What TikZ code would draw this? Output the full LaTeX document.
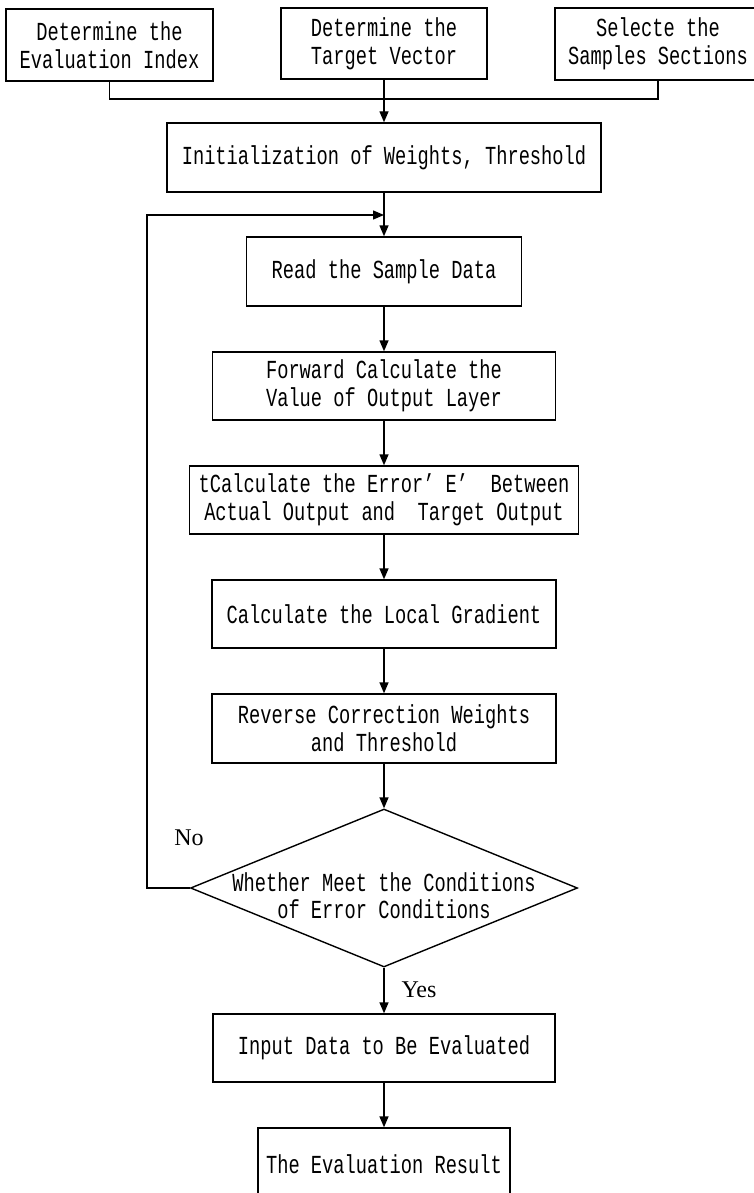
\documentclass[tikz,border=0pt]{standalone}
\usepackage{fontspec}
\setmainfont{Liberation Mono}[FakeStretch=0.72]
\newfontfamily\lblfont{Liberation Serif}
\usetikzlibrary{arrows.meta,shapes.geometric}
\tikzset{
  box/.style={draw, line width=1.4pt, rectangle, inner sep=0pt, align=center,
    font=\fontsize{26}{28}\selectfont},
  arr/.style={line width=1.4pt, -{Triangle[length=11pt,width=9pt]}},
  ln/.style={line width=1.4pt},
  lbl/.style={font=\lblfont\fontsize{24}{28}\selectfont, inner sep=0pt},
  dtxt/.style={align=center, inner sep=0pt, font=\fontsize{26}{27}\selectfont}
}
\begin{document}
\begin{tikzpicture}[x=1pt,y=1pt]
\path[use as bounding box] (0,0) rectangle (753,-1193);
% top boxes
\node[box, minimum width=207pt, minimum height=72pt] (b1) at (109.5,-45) {Determine the\\Evaluation Index};
\node[box, minimum width=206pt, minimum height=71pt] (b2) at (384,-43.5) {Determine the\\Target Vector};
\node[box, minimum width=206pt, minimum height=72pt] (b3) at (658,-44) {Selecte the\\Samples Sections};
\node[box, minimum width=434pt, minimum height=69pt] (init) at (384,-157.5) {Initialization of Weights, Threshold};
\node[box, minimum width=275pt, minimum height=69pt] (read) at (384,-271.5) {Read the Sample Data};
\node[box, minimum width=343pt, minimum height=68pt] (fwd) at (384,-386) {Forward Calculate the\\Value of Output Layer};
\node[box, minimum width=389pt, minimum height=68pt] (err) at (384,-500) {tCalculate the Error’ E’\ \ Between\\Actual Output and\ \ Target Output};
\node[box, minimum width=344pt, minimum height=68pt] (grad) at (384,-614) {Calculate the Local Gradient};
\node[box, minimum width=344pt, minimum height=69pt] (rev) at (384,-728.5) {Reverse Correction Weights\\and Threshold};
\node[draw, line width=1.4pt, diamond, minimum width=387pt, minimum height=158pt, inner sep=0pt] (dia) at (384,-888) {};
\node[dtxt] (diat) at (384,-896) {Whether Meet the Conditions\\of Error Conditions};
\node[box, minimum width=342pt, minimum height=68pt] (inp) at (384,-1048) {Input Data to Be Evaluated};
\node[box, minimum width=252pt, minimum height=72pt] (res) at (384,-1164) {The Evaluation Result};
% labels
\node[lbl] (no) at (189,-838) {No};
\node[lbl] (yes) at (419,-990) {Yes};
% connectors
\coordinate (j) at (384,-99);
\coordinate (lp) at (384,-215);
\coordinate (lc) at (147,-215);
\draw[ln] (b1.south) |- (j) -| (b3.south);
\draw[arr] (b2.south) -- (init.north);
\draw[arr] (init.south) -- (read.north);
\draw[arr] (dia.west) -| (lc) -- (lp);
\draw[arr] (read.south) -- (fwd.north);
\draw[arr] (fwd.south) -- (err.north);
\draw[arr] (err.south) -- (grad.north);
\draw[arr] (grad.south) -- (rev.north);
\draw[arr] (rev.south) -- (dia.north);
\draw[arr] (dia.south) -- (inp.north);
\draw[arr] (inp.south) -- (res.north);
\end{tikzpicture}
\end{document}
